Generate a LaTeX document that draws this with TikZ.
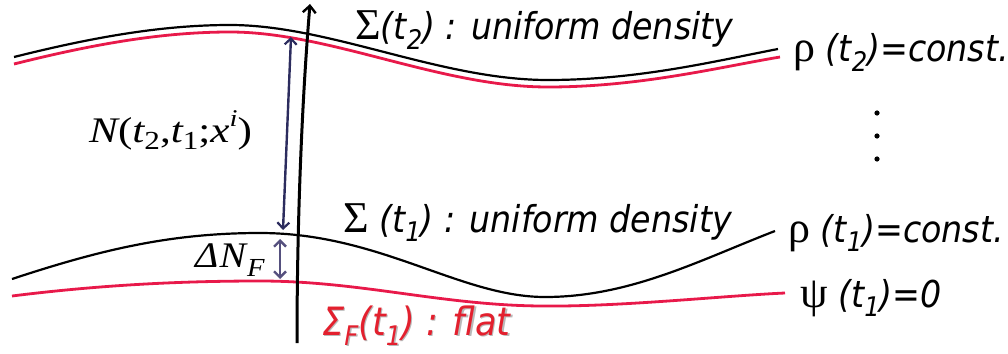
\documentclass[tikz,border=0pt]{standalone}
\usepackage{fontspec}
\usetikzlibrary{arrows.meta}
\newfontfamily\tfont{DejaVu Sans Condensed}
\newfontfamily\serfont{Liberation Serif}
\definecolor{myred}{HTML}{E8194A}
\definecolor{txtred}{HTML}{E3202E}
\definecolor{navy}{HTML}{2C2C5E}
\definecolor{lav}{HTML}{55507E}
\newcommand\lsub[1]{\raisebox{-0.26em}{\fontsize{27}{28}\selectfont #1}}
\newcommand\msub[1]{\raisebox{-0.22em}{\fontsize{26}{28}\selectfont\upshape #1}}
\newcommand\msup[1]{\raisebox{0.42em}{\fontsize{24}{26}\selectfont #1}}
\newcommand\grk[1]{{\serfont\upshape\fontsize{44}{46}\selectfont #1}}
\tikzset{
  lbl/.style={anchor=base west, inner sep=0pt, font=\tfont\itshape\fontsize{37}{40}\selectfont},
  mth/.style={anchor=base west, inner sep=0pt, font=\serfont\itshape\fontsize{36}{38}\selectfont},
  blk/.style={line width=2.2pt, black},
  redl/.style={line width=2.8pt, myred},
  barb/.style={-{Straight Barb[length=7pt,width=13pt,line width=2.4pt]}},
}
\begin{document}
\begin{tikzpicture}[x=1pt,y=-1pt]
\useasboundingbox (0,0) rectangle (1008,353);
% surfaces
\draw[blk] (14,57) .. controls (90,38) and (160,25) .. (230,25) .. controls (330,25) and (440,80) .. (548,80) .. controls (640,80) and (720,60) .. (778,49);
\draw[redl] (14,64) .. controls (90,45) and (160,32) .. (230,32) .. controls (330,32) and (440,87) .. (548,87) .. controls (640,87) and (720,67) .. (780,57);
\draw[blk] (12,279) .. controls (100,250) and (170,233) .. (260,233) .. controls (380,233) and (460,297) .. (545,297) .. controls (630,297) and (700,260) .. (775,231);
\draw[redl] (12,296) .. controls (100,285) and (180,281) .. (260,281) .. controls (360,281) and (440,305) .. (540,306) .. controls (620,307) and (720,296) .. (785,293);
% arrows
\coordinate (vb) at (297,343);
\coordinate (vt) at (310,4);
\draw[line width=3pt, barb] (vb) .. controls (297,220) and (302,100) .. (vt);
\coordinate (na) at (283,230);
\coordinate (nb) at (291,37);
\draw[navy, line width=2.4pt, {Straight Barb[length=6pt,width=12pt,line width=2.2pt]}-{Straight Barb[length=6pt,width=12pt,line width=2.2pt]}] (na) -- (nb);
\coordinate (da) at (280,239);
\coordinate (db) at (280,279);
\draw[lav, line width=2.6pt, {Straight Barb[length=6pt,width=12pt,line width=2.4pt]}-{Straight Barb[length=6pt,width=12pt,line width=2.4pt]}] (da) -- (db);
% labels
\node[lbl] (s2) at (355,40) {\grk{Σ}(t\lsub{2}) : uniform density};
\node[lbl] (r2) at (793,62) {\grk{ρ} (t\lsub{2})=const.};
\node[lbl] (s1) at (343,232) {\grk{Σ} (t\lsub{1}) : uniform density};
\node[lbl] (r1) at (788,242) {\grk{ρ} (t\lsub{1})=const.};
\node[lbl] (p1) at (800,307) {\grk{ψ} (t\lsub{1})=0};
\node[mth] (nn) at (89,142) {\scalebox{1.2}[1]{N{\upshape(}t\msub{2}{\upshape,}t\msub{1}{\upshape;}x\msup{i}{\upshape)}}};
\node[mth] (dn) at (195,267) {\scalebox{1.1}[1]{Δ\kern1pt N\kern1pt\raisebox{-0.25em}{\fontsize{26}{28}\selectfont F}}};
\node[lbl, text=gray!55, font=\tfont\itshape\fontsize{39}{40}\selectfont] at (323.5,336.5) {Σ\lsub{F}(t\lsub{1}) : flat};
\node[lbl, text=txtred, font=\tfont\itshape\fontsize{39}{40}\selectfont] (sf) at (322,335) {Σ\lsub{F}(t\lsub{1}) : flat};
% dots
\foreach \yy/\nm in {113/d1,136/d2,159/d3}{\fill (877,\yy) circle (2.6pt) coordinate (\nm);}
\end{tikzpicture}
\end{document}
